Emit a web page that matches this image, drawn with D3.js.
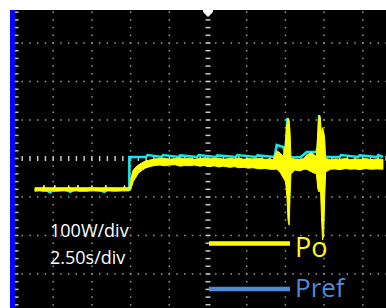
<!DOCTYPE html>
<html>
<head>
<meta charset="utf-8">
<script src="https://cdn.jsdelivr.net/npm/d3@7"></script>
<style>
body { margin: 0; background: #fff; }
svg { display: block; }
</style>
</head>
<body>
<div id="chart-area"></div>
<script>

// Po trace envelope (time in s, power in W)
var poTime = [1.32, 1.6, 1.85, 1.9, 1.95, 2.4, 2.55, 2.6, 2.65, 3.2, 3.45, 3.5, 3.55, 4.05, 4.1, 4.15, 4.7, 4.95, 5.0, 5.05, 5.6, 5.85, 5.9, 5.95, 6.5, 7.05, 7.1, 7.15, 7.42,
	7.46, 7.53, 7.67, 7.85, 8.0, 8.2, 8.43, 8.75, 9.08, 9.4,
	9.7, 10.0, 10.37, 10.7, 11.0, 11.3, 11.6, 11.98, 12.3, 12.6, 12.9, 13.2, 13.5, 13.92, 14.2, 14.5, 14.8, 15.1, 15.4, 15.86, 16.2, 16.5, 16.7,
	16.94, 17.15, 17.36, 17.51, 17.6, 17.67, 17.74, 17.8, 17.86, 18.1, 18.44, 18.7,
	18.88, 19.2, 19.5, 19.6, 19.68, 19.76, 19.83, 19.9, 19.97, 20.04, 20.1,
	20.4, 20.7, 21.03, 21.4, 21.7, 22.0, 22.32, 22.7, 23.0, 23.4, 23.8];
var poLow = [315, 316, 315, 314, 315, 316, 315, 314, 315, 316, 315, 314, 315, 316, 315, 315, 315, 316, 315, 316, 315, 316, 315, 316, 315, 316, 315, 316, 316,
	318, 322, 340, 352, 362, 368, 375, 379, 382, 383,
	381, 383, 384, 380, 382, 381, 383, 380, 382, 379, 381, 378, 380, 377, 379, 376, 377, 375, 376, 373, 374, 372, 372,
	372, 365, 350, 340, 300, 240, 227, 300, 360, 370, 368, 372,
	372, 365, 360, 320, 313, 330, 250, 188, 200, 300, 365,
	372, 373, 371, 374, 372, 373, 371, 374, 372, 373, 372];
var poHigh = [324, 324, 324, 331, 324, 324, 324, 331, 324, 324, 324, 330, 324, 324, 331, 324, 324, 324, 330, 324, 324, 324, 331, 324, 324, 324, 330, 324, 324,
	332, 350, 370, 378, 383, 388, 393, 396, 399, 400,
	401, 398, 400, 402, 399, 401, 398, 400, 402, 399, 400, 401, 398, 400, 399, 401, 398, 400, 399, 400, 398, 399, 396,
	420, 415, 405, 440, 490, 505, 500, 470, 400, 398, 397, 400,
	410, 415, 405, 470, 513, 505, 460, 480, 470, 450, 400,
	397, 399, 398, 400, 397, 399, 398, 400, 397, 399, 398];

// Pref trace
var prefTime = [1.32, 2.0, 2.3, 2.5, 3.4, 3.6, 3.8, 4.3, 4.5, 5.5, 5.8, 6.0, 7.42,
	7.42, 8.0, 8.5, 8.6, 9.5, 9.6, 10.6, 10.7, 11.8, 11.9, 13.0, 13.1, 14.3, 14.4, 15.6, 15.7, 16.8,
	16.94, 17.36, 17.5, 17.63, 17.72, 17.86, 18.5, 18.88, 19.5, 19.6, 19.68, 19.78, 20.1,
	21.0, 21.1, 22.2, 22.3, 23.4, 23.5, 23.8];
var prefValue = [319, 319, 312, 319, 319, 313, 319, 319, 319, 319, 313, 319, 319,
	404, 404, 404, 409, 404, 409, 404, 408, 404, 409, 404, 408, 404, 409, 404, 408, 404,
	435, 430, 410, 505, 410, 402, 404, 417, 417, 430, 513, 410, 404,
	404, 409, 404, 408, 404, 409, 404];

var scaleLabels = ["100W/div", "2.50s/div"];
var seriesNames = ["Po", "Pref"];
var seriesColors = ["#ffff00", "#4f8ad6"];

var width = 386,
	height = 308;

var svg = d3.select("#chart-area")
	.append("svg")
	.attr("width", width)
	.attr("height", height);

// 10 x 8 divisions, the screen is cropped on the right and bottom
var x = d3.scaleLinear()
	.domain([0, 25])
	.range([14.5, 401.5]);

var y = d3.scaleLinear()
	.domain([0, 800])
	.range([312.5, 4.5]);

svg.append("rect")
	.attr("x", 10).attr("y", 10)
	.attr("width", 5).attr("height", height - 10)
	.attr("fill", "#0000ff");

svg.append("rect")
	.attr("x", 15).attr("y", 10)
	.attr("width", width - 15).attr("height", height - 10)
	.attr("fill", "#000");

var majorX = d3.range(2.5, 25, 2.5).filter(function(d){ return d != 12.5; });
var majorY = d3.range(100, 800, 100).filter(function(d){ return d != 400; });
var minorX = d3.range(0.5, 25, 0.5);
var minorY = d3.range(20, 800, 20);

var grid = svg.append("g").attr("fill", "#9a9a9a");

// dotted verticals
majorX.forEach(function(t){
	grid.selectAll(null)
		.data(minorY)
		.enter()
		.append("rect")
		.attr("x", x(t) - 0.75)
		.attr("y", function(d){ return y(d) - 0.75; })
		.attr("width", 1.5)
		.attr("height", 1.5);
});

// dotted horizontals
majorY.forEach(function(v){
	grid.selectAll(null)
		.data(minorX)
		.enter()
		.append("rect")
		.attr("x", function(d){ return x(d) - 0.75; })
		.attr("y", y(v) - 0.75)
		.attr("width", 1.5)
		.attr("height", 1.5);
});

// centre axes and left border with ticks
var ticks = svg.append("g").attr("fill", "#c8c8c8");

ticks.selectAll(null)
	.data(minorY)
	.enter()
	.append("rect")
	.attr("x", x(12.5) - 2.5)
	.attr("y", function(d){ return y(d) - 0.75; })
	.attr("width", 5)
	.attr("height", 1.5);

ticks.selectAll(null)
	.data(minorX)
	.enter()
	.append("rect")
	.attr("x", function(d){ return x(d) - 0.75; })
	.attr("y", y(400) - 2.5)
	.attr("width", 1.5)
	.attr("height", 5);

ticks.selectAll(null)
	.data(minorY)
	.enter()
	.append("rect")
	.attr("x", 15)
	.attr("y", function(d){ return y(d) - 0.75; })
	.attr("width", 3.5)
	.attr("height", 1.5);

// trigger marker
svg.append("path")
	.attr("d", "M" + (x(12.5) - 5) + ",10 h10 v2 l-5,5 l-5,-5 Z")
	.attr("fill", "#fff");

// Pref line
var prefLine = d3.line()
	.x(function(d, i){ return x(prefTime[i]); })
	.y(function(d){ return y(d); });

svg.append("path")
	.datum(prefValue)
	.attr("d", prefLine)
	.attr("fill", "none")
	.attr("stroke", "#12e6ee")
	.attr("stroke-width", 2.6);

// Po envelope
var poArea = d3.area()
	.x(function(d, i){ return x(poTime[i]); })
	.y0(function(d, i){ return y(poLow[i]); })
	.y1(function(d, i){ return y(poHigh[i]); });

svg.append("path")
	.datum(poTime)
	.attr("d", poArea)
	.attr("fill", "#ffff00")
	.attr("stroke", "#ffff00")
	.attr("stroke-width", 1);

// scale annotations
svg.selectAll(".scale-label")
	.data(scaleLabels)
	.enter()
	.append("text")
	.attr("class", "scale-label")
	.attr("x", 50)
	.attr("y", function(d, i){ return 237 + i * 27; })
	.attr("fill", "#fff")
	.style("font-family", "Open Sans")
	.style("font-size", "18px")
	.text(function(d){ return d; });

// legend, text placed a bit differently for each entry as in the slide
var legendLineY = [243.5, 289];
var legendTextY = [257, 297];

var legend = svg.selectAll(".legend")
	.data(seriesNames)
	.enter()
	.append("g")
	.attr("class", "legend");

legend.append("line")
	.attr("x1", 209).attr("x2", 290)
	.attr("y1", function(d, i){ return legendLineY[i]; })
	.attr("y2", function(d, i){ return legendLineY[i]; })
	.attr("stroke", function(d, i){ return seriesColors[i]; })
	.attr("stroke-width", 4.5);

legend.append("text")
	.attr("x", 295)
	.attr("y", function(d, i){ return legendTextY[i]; })
	.attr("fill", function(d, i){ return seriesColors[i]; })
	.style("font-family", "Open Sans")
	.style("font-size", function(d, i){ return i == 0 ? "27px" : "26px"; })
	.text(function(d){ return d; });

</script>
</body>
</html>
